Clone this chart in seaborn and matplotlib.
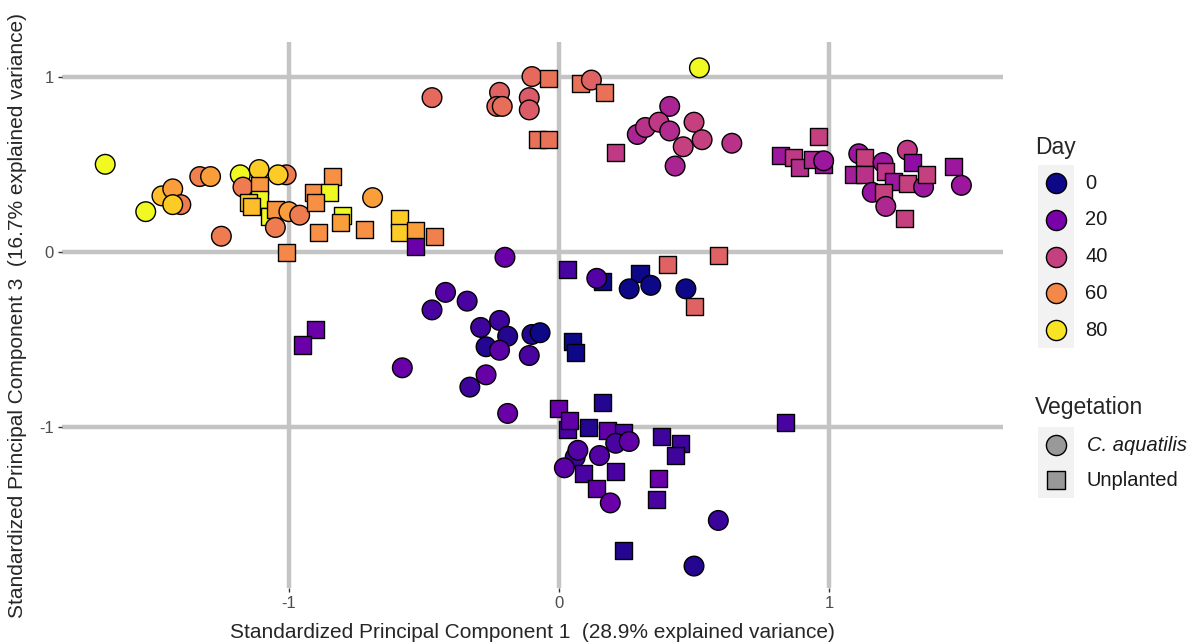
import numpy as np
import pandas as pd
import seaborn as sns
import matplotlib.pyplot as plt
from matplotlib.patches import Rectangle
from matplotlib.colors import Normalize

# PCA scores
pc1 = [-1.68, -1.53, -1.47, -1.43, -1.40, -1.43, -1.33, -1.29, -1.25, -1.18,
       -1.11, -1.17, -1.11, -1.11, -1.15, -1.14, -1.01, -1.04, -1.07, -1.05,
       -1.00, -0.96, -1.05, -1.01, -0.84, -0.91, -0.85, -0.90, -0.80, -0.81,
       -0.69, -0.89, -0.72, -0.59, -0.59, -0.53, -0.46,
       -0.47, -0.22, -0.23, -0.21, -0.11, -0.11, -0.10, -0.04, -0.08, -0.04,
       0.08, 0.12, 0.17, 0.52,
       0.21, 0.41, 0.29, 0.32, 0.37, 0.41, 0.50, 0.46, 0.53, 0.43, 0.64,
       0.82, 0.87, 0.96, 0.89, 0.94, 0.98, 0.98, 1.11, 1.13, 1.09, 1.13,
       1.20, 1.21, 1.24, 1.29, 1.31, 1.29, 1.35, 1.36, 1.16, 1.20, 1.21,
       1.28, 1.46, 1.49,
       -0.53, -0.20, -0.90, -0.95, -0.42, -0.34, -0.47, -0.29, -0.22, -0.19,
       -0.27, -0.22, -0.10, -0.07, -0.11, -0.58, -0.27, -0.33, -0.19,
       0.03, 0.16, 0.14, 0.30, 0.26, 0.34, 0.40, 0.59, 0.47, 0.50, 0.05, 0.06,
       0.00, 0.16, 0.03, 0.04, 0.11, 0.18, 0.24, 0.21, 0.26, 0.38, 0.45, 0.43,
       0.06, 0.07, 0.15, 0.02, 0.09, 0.21, 0.14, 0.19, 0.37, 0.36, 0.59, 0.24,
       0.50, 0.84]
pc3 = [0.50, 0.23, 0.32, 0.36, 0.27, 0.27, 0.43, 0.43, 0.09, 0.44,
       0.47, 0.37, 0.38, 0.30, 0.28, 0.26, 0.44, 0.44, 0.20, 0.24,
       0.23, 0.21, 0.14, 0.00, 0.43, 0.34, 0.34, 0.28, 0.21, 0.17,
       0.31, 0.11, 0.13, 0.19, 0.11, 0.12, 0.09,
       0.88, 0.91, 0.83, 0.83, 0.88, 0.81, 1.00, 0.99, 0.64, 0.64,
       0.96, 0.98, 0.91, 1.05,
       0.57, 0.83, 0.67, 0.71, 0.74, 0.69, 0.74, 0.60, 0.64, 0.49, 0.62,
       0.55, 0.54, 0.66, 0.48, 0.53, 0.50, 0.52, 0.56, 0.54, 0.44, 0.44,
       0.51, 0.46, 0.40, 0.58, 0.51, 0.39, 0.37, 0.44, 0.34, 0.34, 0.26,
       0.19, 0.49, 0.38,
       0.03, -0.03, -0.44, -0.53, -0.23, -0.28, -0.33, -0.43, -0.39, -0.48,
       -0.54, -0.56, -0.47, -0.46, -0.59, -0.66, -0.70, -0.77, -0.92,
       -0.10, -0.17, -0.15, -0.12, -0.21, -0.19, -0.07, -0.02, -0.21, -0.31,
       -0.51, -0.57,
       -0.89, -0.86, -1.01, -0.96, -1.00, -1.02, -1.03, -1.09, -1.08, -1.05,
       -1.09, -1.16,
       -1.17, -1.13, -1.16, -1.23, -1.26, -1.25, -1.35, -1.43, -1.29, -1.41,
       -1.53, -1.70, -1.79, -0.97]
day = [84, 84, 72, 65, 57, 75, 58, 65, 57, 84,
       75, 57, 63, 84, 75, 72, 57, 75, 84, 63,
       65, 57, 57, 60, 62, 62, 84, 62, 84, 65,
       65, 62, 62, 75, 75, 65, 58,
       52, 50, 52, 53, 48, 48, 52, 54, 54, 54,
       54, 50, 54, 84,
       38, 32, 32, 36, 38, 34, 40, 40, 40, 32, 36,
       28, 38, 40, 35, 33, 28, 28, 28, 40, 30, 36,
       28, 37, 28, 38, 25, 40, 28, 40, 27, 40, 33,
       40, 28, 28,
       17, 17, 17, 17, 12, 10, 10, 8, 8, 3,
       3, 14, 3, 0, 10, 17, 16, 8, 17,
       10, 0, 12, 0, 0, 0, 50, 50, 0, 50, 0, 0,
       17, 3, 10, 15, 3, 15, 10, 10, 15, 8, 8, 8,
       8, 12, 12, 14, 10, 10, 15, 17, 17, 10, 7, 3,
       3, 10]
veg_code = ("CCCCCCCCCCCCUUUUCCUUCCCUUUUUUUCUUUUUU"
            "CCCCCCCUUUUCUC"
            "UCCCCCCCCCC"
            "UUUUUUCCUUUCUUCUUCUCUCU"
            "UC"
            "UCUUCCCCCCCCCCCCCCC"
            "UUCUCCUUCUUU"
            "UUUUUUUCCUUU"
            "CCCCUUUCUUCUCU")
veg_names = {"C": "C. aquatilis", "U": "Unplanted"}

df = pd.DataFrame({"pc1": pc1, "pc3": pc3, "day": day,
                   "veg": [veg_names[c] for c in veg_code]})

sns.set_style("white")
plt.rcParams["font.family"] = ["Liberation Sans", "DejaVu Sans"]

fig = plt.figure(figsize=(12, 6.44), dpi=100)
ax = fig.add_axes([62 / 1200, 1 - 588 / 644, (1003 - 62) / 1200, (588 - 42) / 644])

for v in [-1, 0, 1]:
    ax.axvline(v, color="#C4C4C4", lw=3.2, zorder=0)
    ax.axhline(v, color="#C4C4C4", lw=3.2, zorder=0)

sns.scatterplot(data=df, x="pc1", y="pc3", hue="day", palette="plasma",
                hue_norm=(0, 84), style="veg",
                markers={"C. aquatilis": "o", "Unplanted": "s"},
                size="veg", sizes={"C. aquatilis": 200, "Unplanted": 150},
                edgecolor="black", linewidth=1.0, legend=False, ax=ax, zorder=3)

ax.set_xlim(-1.84, 1.644)
ax.set_ylim(-1.915, 1.197)
ax.set_xticks([-1, 0, 1])
ax.set_xticklabels(["-1", "0", "1"])
ax.set_yticks([-1, 0, 1])
ax.set_yticklabels(["-1", "0", "1"])
ax.tick_params(length=3, width=1, color="#333333", labelcolor="#4D4D4D",
               labelsize=12, pad=3, left=True, bottom=True)
for s in ax.spines.values():
    s.set_visible(False)
ax.set_xlabel("Standardized Principal Component 1  (28.9% explained variance)",
              fontsize=15)
ax.set_ylabel("Standardized Principal Component 3  (16.7% explained variance)",
              fontsize=15)
ax.xaxis.set_label_coords(0.5, -0.064)
ax.yaxis.set_label_coords(-0.037, 0.5)

# legends drawn in a pixel-space overlay
lg = fig.add_axes([0, 0, 1, 1])
lg.set_xlim(0, 1200)
lg.set_ylim(644, 0)
lg.axis("off")
cmap = plt.get_cmap("plasma")
norm = Normalize(0, 84)

lg.text(1035, 147, "Day", fontsize=16.5, va="center", ha="left")
lg.add_patch(Rectangle((1038, 165), 36, 183, color="#F2F2F2", lw=0))
for i, d in enumerate([0, 20, 40, 60, 80]):
    yy = 183 + 36.8 * i
    lg.scatter(1056, yy, s=210, color=cmap(norm(d)), edgecolor="black", lw=1.0)
    lg.text(1085, yy, str(d), fontsize=14.5, va="center", ha="left", color="#1A1A1A")

lg.text(1035, 407, "Vegetation", fontsize=16.5, va="center", ha="left")
lg.add_patch(Rectangle((1038, 427), 36, 71, color="#F2F2F2", lw=0))
lg.scatter(1056, 445, s=210, marker="o", color="#999999", edgecolor="black", lw=1.0)
lg.scatter(1056, 480, s=150, marker="s", color="#999999", edgecolor="black", lw=1.0)
lg.text(1087, 445, "C. aquatilis", fontsize=14.5, style="italic", va="center", color="#1A1A1A")
lg.text(1087, 480, "Unplanted", fontsize=14.5, va="center", color="#1A1A1A")

fig.savefig("out.png", dpi=100, facecolor="white")
